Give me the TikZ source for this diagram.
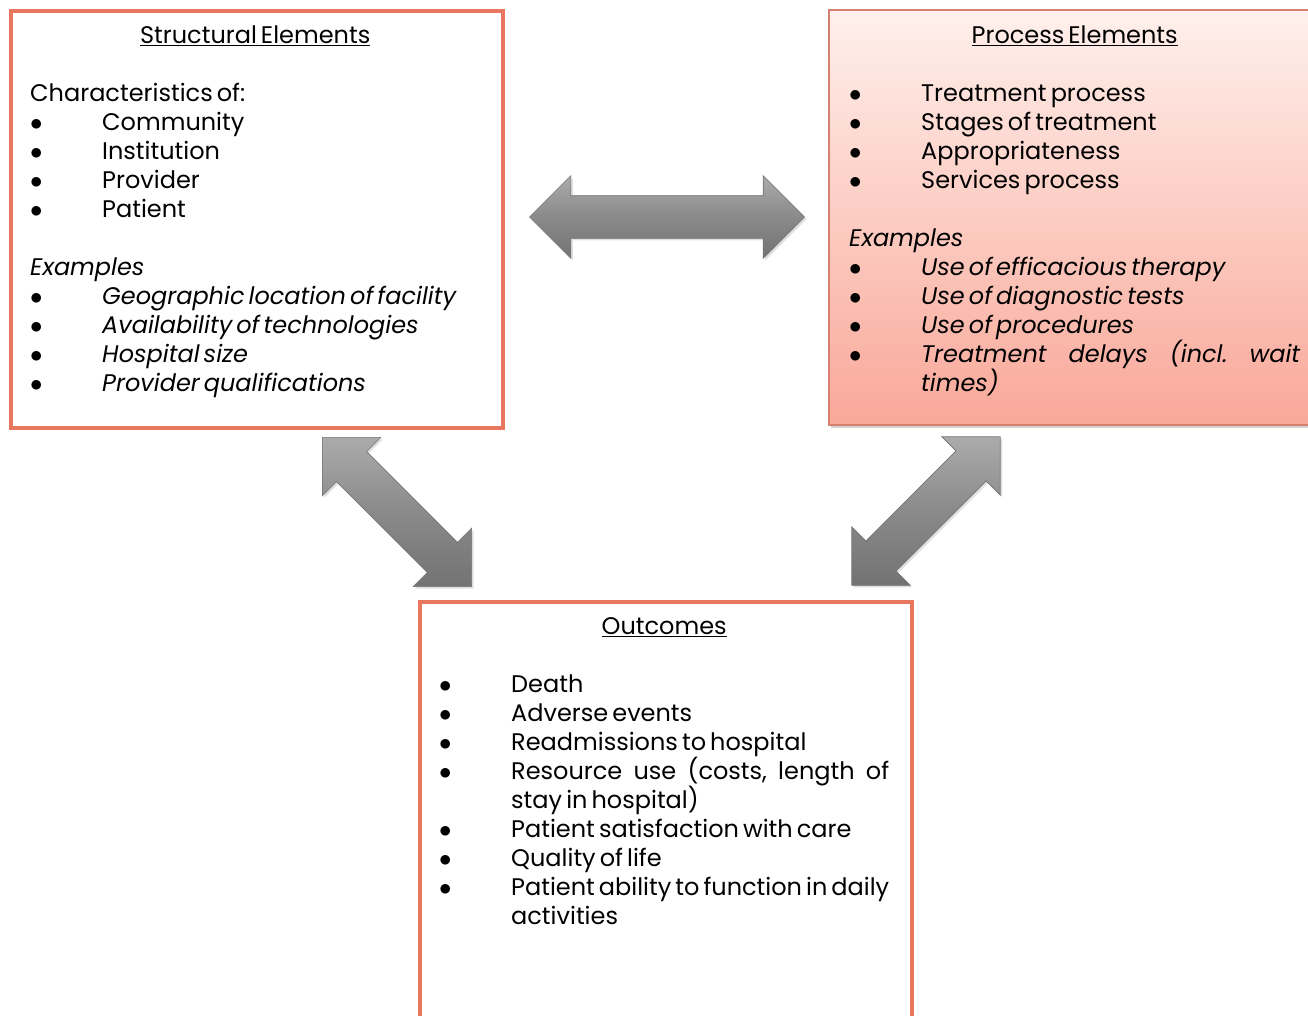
\documentclass[tikz,border=0pt]{standalone}
\usepackage{fontspec}
\setmainfont{Poppins}
\usepackage{xcolor}
\usetikzlibrary{shapes.arrows,positioning,shadows,calc}

\definecolor{boxline}{RGB}{233,118,95}
\definecolor{procline}{RGB}{214,128,112}
\definecolor{proctop}{RGB}{255,240,236}
\definecolor{procbot}{RGB}{249,168,153}

% text setup inside the boxes
\newcommand{\boxsetup}{\frenchspacing\spaceskip=0.17em plus 1em minus 0.05em\relax\hyphenpenalty=10000\relax}
% one bullet line, hanging indent for wrapped text
\newcommand{\bitem}[1]{\par\hangindent=72pt\hangafter=1\noindent\makebox[72pt][l]{$\bullet$}#1}
\newcommand{\btitle}[1]{\centerline{\underline{#1}}\vskip 29pt}
\newcommand{\bgap}{\par\vskip 29pt}

\begin{document}
\begin{tikzpicture}[
    x=1pt, y=-1pt,
    framebox/.style={rectangle, draw=boxline, line width=3.5pt, fill=white, anchor=north west,
        minimum width=492pt, minimum height=417pt},
    procbox/.style={rectangle, draw=procline, line width=2pt, anchor=north west,
        top color=proctop, bottom color=procbot,
        minimum width=510pt, minimum height=415pt,
        drop shadow={opacity=0.35, shadow xshift=2pt, shadow yshift=-3pt}},
    content/.style={anchor=north west, inner sep=0pt, text width=450pt, align=justify,
        font=\fontsize{24}{29}\selectfont},
    blockarrow/.style={double arrow, double arrow head extend=20pt, inner xsep=0pt, inner ysep=21pt,
        draw=black!55, line width=0.6pt,
        top color=black!33, bottom color=black!55, middle color=black!46,
        drop shadow={opacity=0.25, shadow xshift=2pt, shadow yshift=-2pt}}
]
    \useasboundingbox (0,0) rectangle (1308,1015);
    \clip (0,0) rectangle (1308,1015);

    \node[framebox] (struct) at (9,9) {};
    \node[procbox] (proc) at (828,9) {};
    \node[framebox, minimum height=440pt] (outc) at (418,600) {};

    \node[content] (structtext) at ([shift={(21,17)}]struct.north west) {\boxsetup
        \btitle{Structural Elements}
        \noindent Characteristics of:
        \bitem{Community}
        \bitem{Institution}
        \bitem{Provider}
        \bitem{Patient}
        \bgap
        \noindent\textit{Examples}
        \bitem{\textit{Geographic location of facility}}
        \bitem{\textit{Availability of technologies}}
        \bitem{\textit{Hospital size}}
        \bitem{\textit{Provider qualifications}}\par
    };

    \node[content, text width=451pt] (proctext) at ([shift={(21,17)}]proc.north west) {\boxsetup
        \btitle{Process Elements}
        \bitem{Treatment process}
        \bitem{Stages of treatment}
        \bitem{Appropriateness}
        \bitem{Services process}
        \bgap
        \noindent\textit{Examples}
        \bitem{\textit{Use of efficacious therapy}}
        \bitem{\textit{Use of diagnostic tests}}
        \bitem{\textit{Use of procedures}}
        \bitem{\textit{Treatment delays (incl. wait\linebreak times)}}\par
    };

    \node[content] (outctext) at ([shift={(21,17)}]outc.north west) {\boxsetup
        \btitle{Outcomes}
        \bitem{Death}
        \bitem{Adverse events}
        \bitem{Readmissions to hospital}
        \bitem{Resource use (costs, length of\linebreak stay in hospital)}
        \bitem{Patient satisfaction with care}
        \bitem{Quality of life}
        \bitem{Patient ability to function in daily\linebreak activities}\par
    };

    % block arrows between the boxes
    \node[blockarrow, minimum height=275pt] (arrSP) at (667,217) {};
    \node[blockarrow, minimum height=211pt, rotate=-45] (arrSO) at (397,512) {};
    \node[blockarrow, minimum height=210pt, rotate=45] (arrPO) at (926,511) {};
\end{tikzpicture}
\end{document}
